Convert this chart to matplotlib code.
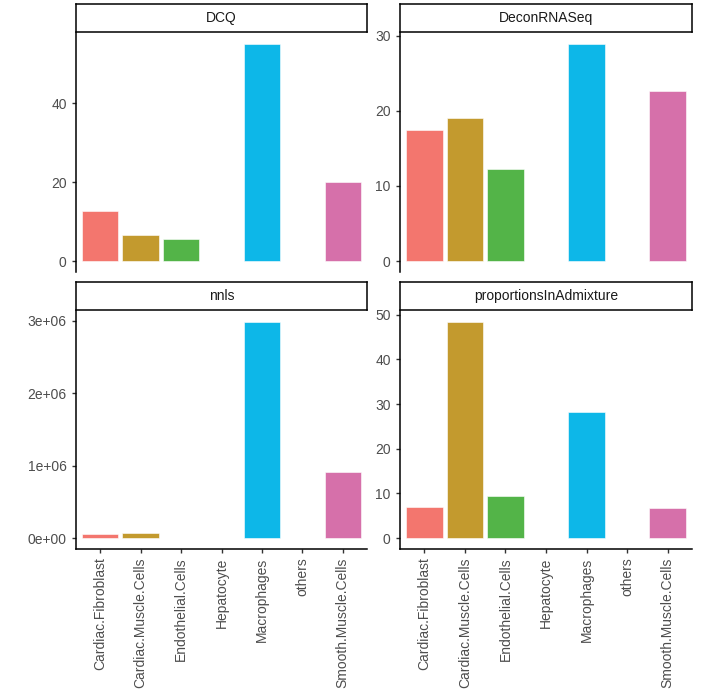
import matplotlib
matplotlib.use("Agg")
import matplotlib.pyplot as plt
from matplotlib.ticker import FuncFormatter

plt.rcParams['font.family'] = ['Liberation Sans', 'DejaVu Sans']

categories = ["Cardiac.Fibroblast", "Cardiac.Muscle.Cells", "Endothelial.Cells",
              "Hepatocyte", "Macrophages", "others", "Smooth.Muscle.Cells"]
colors = ["#F3766E", "#C39A2E", "#53B448", "#00C094", "#0DB7E8", "#A58AFF", "#D670AA"]

methods = ["DCQ", "DeconRNASeq", "nnls", "proportionsInAdmixture"]
dcq = [12.8, 6.7, 5.5, 0, 55.0, 0, 20.0]
decon = [17.5, 19.0, 12.3, 0, 28.9, 0, 22.6]
nnls = [6.0e4, 7.3e4, 0, 0, 2.985e6, 0, 9.1e5]
props = [6.9, 48.4, 9.4, 0, 28.3, 0, 6.7]
values = [dcq, decon, nnls, props]
yticks = [[0, 20, 40], [0, 10, 20, 30], [0, 1e6, 2e6, 3e6], [0, 10, 20, 30, 40, 50]]

W, H = 701, 698
fig = plt.figure(figsize=(W / 100, H / 100), dpi=100)

# pixel layout: (x0, x1) and (strip_top, strip_bottom, panel_top, panel_bottom)
cols = [(76, 367), (400, 692)]
rows = [(4, 32, 33, 272), (282, 310, 311, 549)]

def frac(x0, x1, ytop, ybot):
    return [x0 / W, 1 - ybot / H, (x1 - x0) / W, (ybot - ytop) / H]

def sci(v, pos):
    if v == 0:
        return "0e+00"
    s = "%.0e" % v
    return s

for i, (name, vals, yt) in enumerate(zip(methods, values, yticks)):
    r, c = divmod(i, 2)
    x0, x1 = cols[c]
    st, sb, pt, pb = rows[r]
    ax = fig.add_axes(frac(x0, x1, pt, pb))
    xs = list(range(len(categories)))
    ax.bar(xs, vals, width=0.9, color=colors, edgecolor="white", linewidth=0.4)
    vmax = max(vals)
    ax.set_ylim(-0.05 * vmax, 1.05 * vmax)
    ax.set_xlim(-0.6, len(categories) - 0.4)
    ax.set_yticks(yt)
    if name == "nnls":
        ax.yaxis.set_major_formatter(FuncFormatter(sci))
    for s in ["top", "right"]:
        ax.spines[s].set_visible(False)
    ax.spines["left"].set_linewidth(1.1)
    ax.spines["bottom"].set_linewidth(1.1)
    ax.tick_params(axis="both", length=3.2, width=1.0, color="#333333",
                   labelcolor="#4D4D4D", labelsize=10, pad=3.5)
    ax.set_xticks(xs)
    if r == 0:
        ax.spines["bottom"].set_visible(False)
        ax.tick_params(axis="x", bottom=False, labelbottom=False)
    else:
        ax.set_xticklabels(categories, rotation=90, ha="center", va="top")
        ax.tick_params(axis="x", pad=3)
    # strip
    sax = fig.add_axes(frac(x0, x1, st, sb))
    sax.set_xticks([]); sax.set_yticks([])
    for s in sax.spines.values():
        s.set_linewidth(1.1)
        s.set_color("black")
    sax.text(0.5, 0.5, name, ha="center", va="center", fontsize=10,
             color="#1A1A1A", transform=sax.transAxes)

fig.savefig("out.png", dpi=100)
